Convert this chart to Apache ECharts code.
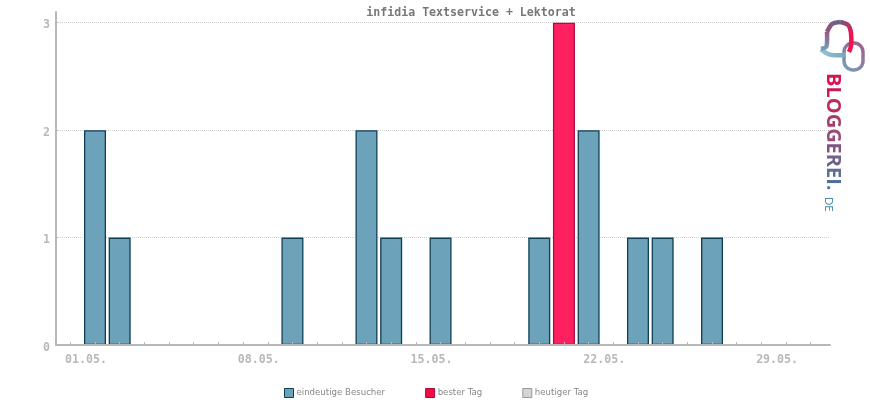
<!DOCTYPE html>
<html>
<head>
<meta charset="utf-8">
<style>
html, body { margin: 0; padding: 0; background: #fff; }
#chart { width: 870px; height: 400px; }
</style>
<script src="https://cdn.jsdelivr.net/npm/echarts@6/dist/echarts.min.js"></script>
</head>
<body>
<div id="chart"></div>
<script>
// Tage im Mai (Position 0 ist der leere Platz vor dem 01.05.)
var tickTage = [0, 1, 2, 3, 4, 5, 6, 7, 8, 9, 10, 11, 12, 13, 14, 15, 16, 17, 18, 19, 20, 21, 22, 23, 24, 25, 26, 27, 28, 29, 30];
var labelTage = [1, 8, 15, 22, 29];
var yTicks = [0, 1, 2, 3];

var besucherTage = [1, 2, 9, 12, 13, 15, 19, 21, 23, 24, 26];
var besucherWerte = [2, 1, 1, 2, 1, 1, 1, 2, 1, 1, 1];
var besterTagTage = [20];
var besterTagWerte = [3];
var heutigerTagTage = [];
var heutigerTagWerte = [];

var logoBuchstaben = ['B', 'L', 'O', 'G', 'G', 'E', 'R', 'E', 'I', '.'];
var logoFarben = ['#d9134f', '#c81c55', '#bd2a5e', '#a83b6b', '#984a78', '#7f5682', '#6e6489', '#5f6f92', '#506f96', '#4f7fa0'];

function paare(tage, werte) {
    return tage.map(function (t, i) { return [t, werte[i]]; });
}
function pad2(n) {
    return (n < 10 ? '0' : '') + n;
}

var grau = '#b8b8b8';
var chart = echarts.init(document.getElementById('chart'));

// ein Stueck vom Logo-Bogen, Verlauf von c1 nach c2
function bogen(points, x2, y2, c1, c2) {
    return {
        type: 'polyline',
        shape: {points: points, smooth: 0.3},
        style: {
            fill: 'none',
            lineWidth: 4.5,
            stroke: new echarts.graphic.LinearGradient(0, 0, x2, y2, [
                {offset: 0, color: c1},
                {offset: 1, color: c2}
            ])
        }
    };
}

var logoRich = {};
var logoText = logoBuchstaben.map(function (b, i) {
    logoRich['b' + i] = {
        fontFamily: 'Open Sans',
        fontWeight: 'bold',
        fontSize: 20,
        fill: logoFarben[i]
    };
    return '{b' + i + '|' + b + '}';
}).join('');

var option = {
    backgroundColor: '#fff',
    animation: false,
    title: {
        text: 'infidia Textservice + Lektorat',
        left: 466,
        top: 2,
        textAlign: 'center',
        textStyle: {
            fontFamily: 'DejaVu Sans Mono',
            fontWeight: 'bold',
            fontSize: 11.6,
            color: '#777'
        }
    },
    legend: {
        left: 279,
        top: 383,
        itemWidth: 9,
        itemHeight: 9,
        itemGap: 40,
        icon: 'rect',
        textStyle: {
            fontFamily: 'DejaVu Sans',
            fontSize: 8.6,
            color: '#888',
            padding: [0, 0, 0, -2]
        },
        data: [
            {name: 'eindeutige Besucher', itemStyle: {color: '#6ca3bb', borderColor: '#0f3f55', borderWidth: 1}},
            {name: 'bester Tag', itemStyle: {color: '#f50a45', borderColor: '#a80a3a', borderWidth: 1}},
            {name: 'heutiger Tag', itemStyle: {color: '#d4d4d4', borderColor: '#999', borderWidth: 1}}
        ]
    },
    grid: {
        left: 56,
        right: 40,
        top: 12,
        bottom: 55
    },
    xAxis: {
        type: 'value',
        min: -0.58,
        max: 30.78,
        z: 3,
        axisLine: {lineStyle: {color: grau, width: 2}},
        axisTick: {
            customValues: tickTage,
            inside: true,
            length: 3,
            lineStyle: {color: grau}
        },
        axisLabel: {
            customValues: labelTage,
            formatter: function (v) { return pad2(v) + '.05.'; },
            fontFamily: 'DejaVu Sans Mono',
            fontWeight: 'bold',
            fontSize: 11.6,
            color: grau,
            margin: 9,
            padding: [0, 18, 0, 0]
        },
        splitLine: {show: false}
    },
    yAxis: {
        type: 'value',
        min: 0,
        max: 3.1,
        axisLine: {show: true, onZero: false, lineStyle: {color: grau, width: 2}},
        axisTick: {
            show: true,
            customValues: yTicks,
            inside: true,
            length: 2,
            lineStyle: {color: grau}
        },
        axisLabel: {
            customValues: yTicks,
            fontFamily: 'DejaVu Sans Mono',
            fontSize: 11.6,
            fontWeight: 'bold',
            color: grau,
            margin: 6,
            verticalAlign: 'top',
            lineHeight: 5
        },
        splitLine: {
            show: true,
            customValues: yTicks,
            showMinLine: false,
            showMaxLine: true,
            lineStyle: {color: '#cfcfcf', type: [1, 1], width: 1}
        }
    },
    series: [
        {
            name: 'eindeutige Besucher',
            type: 'bar',
            barWidth: 22,
            barGap: '-100%',
            itemStyle: {color: '#6ca3bb', borderColor: '#0f3f55', borderWidth: 1.3},
            data: paare(besucherTage, besucherWerte)
        },
        {
            name: 'bester Tag',
            type: 'bar',
            barWidth: 22,
            barGap: '-100%',
            itemStyle: {color: '#ff2060', borderColor: '#b00b3f', borderWidth: 1.3},
            data: paare(besterTagTage, besterTagWerte)
        },
        {
            name: 'heutiger Tag',
            type: 'bar',
            barWidth: 22,
            barGap: '-100%',
            itemStyle: {color: '#d4d4d4', borderColor: '#999', borderWidth: 1.3},
            data: paare(heutigerTagTage, heutigerTagWerte)
        }
    ],
    // Logo rechts oben
    graphic: [
        {
            type: 'rect',
            shape: {x: 844, y: 43, width: 19, height: 27, r: 9},
            style: {fill: 'none', lineWidth: 3.5, stroke: new echarts.graphic.LinearGradient(0, 1, 1, 0, [
                {offset: 0, color: '#6fa8bf'},
                {offset: 1, color: '#a85580'}
            ])}
        },
        bogen([[845, 55], [832, 55], [826, 53], [821, 49]], 1, 0, '#9cc4d4', '#6fa8bf'),
        bogen([[821, 49], [826, 47], [827, 43], [827, 32]], 0, 1, '#a04f78', '#6fa8bf'),
        bogen([[827, 32], [832, 24], [840, 22]], 1, 0, '#a04f78', '#4f6d8f'),
        bogen([[840, 22], [848, 25], [851, 33], [851, 46], [849, 52]], 1, 0.3, '#4f6d8f', '#f0134f'),
        {
            type: 'text',
            x: 833,
            y: 73,
            rotation: -Math.PI / 2,
            style: {
                text: logoText,
                rich: logoRich,
                align: 'left',
                verticalAlign: 'middle'
            }
        },
        {
            type: 'text',
            x: 829,
            y: 197,
            rotation: -Math.PI / 2,
            style: {
                text: 'DE',
                fontFamily: 'Lato',
                fontSize: 11,
                fill: '#4f8ca8',
                align: 'left',
                verticalAlign: 'middle'
            }
        }
    ]
};
chart.setOption(option);
</script>
</body>
</html>
